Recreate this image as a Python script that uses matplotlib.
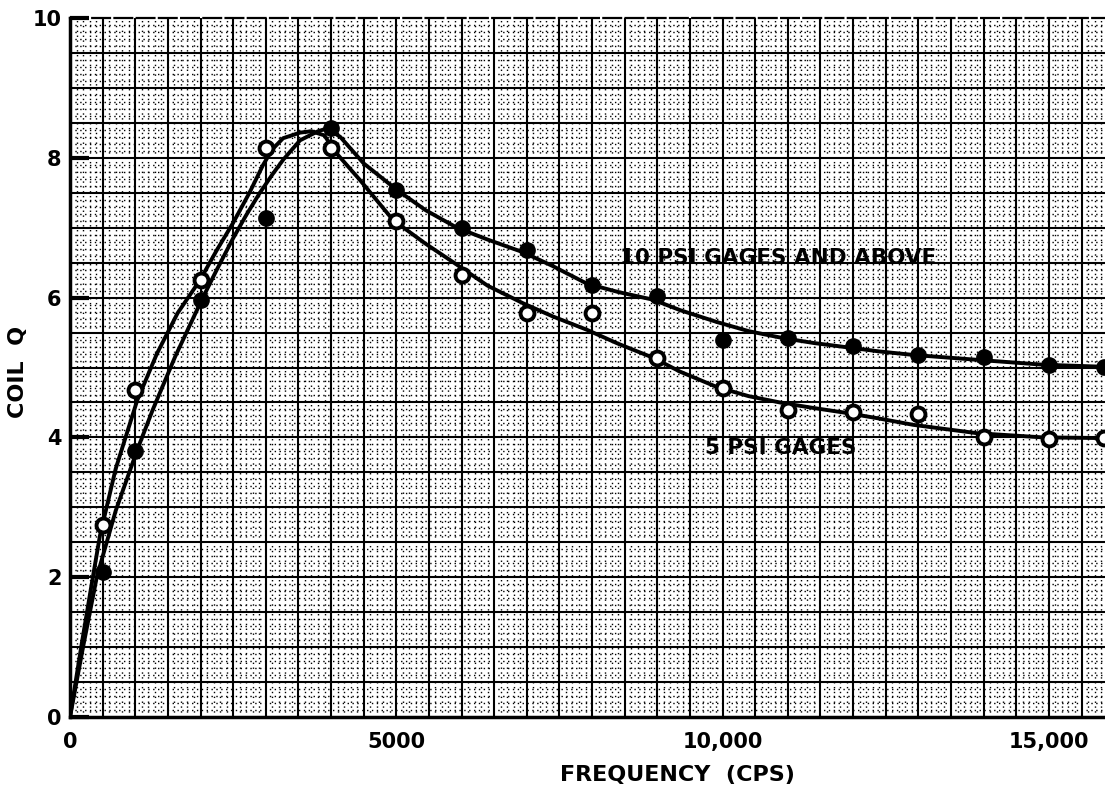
import matplotlib
matplotlib.use("Agg")
import matplotlib.pyplot as plt
from matplotlib.ticker import FixedLocator

plt.rcParams['font.family'] = ['DejaVu Sans']

# ---- data ----
freq_pts = [500, 1000, 2000, 3000, 4000, 5000, 6000, 7000, 8000, 9000,
            10000, 11000, 12000, 13000, 14000, 15000, 15850]
q_10psi_pts = [2.07, 3.80, 5.97, 7.14, 8.42, 7.54, 6.99, 6.68, 6.18, 6.02,
               5.40, 5.42, 5.31, 5.18, 5.15, 5.03, 5.01]
q_5psi_pts = [2.75, 4.68, 6.25, 8.14, 8.14, 7.09, 6.32, 5.78, 5.78, 5.14,
              4.71, 4.39, 4.36, 4.33, 4.00, 3.98, 3.99]

curve_10_f = [0, 200, 410, 700, 1030, 1270, 1609, 2020, 2250, 2500, 2700,
              2910, 3100, 3265, 3525, 3800, 3940, 4140, 4500, 5010, 5450,
              5930, 6400, 6940, 7400, 7920, 8400, 8935, 9350, 9915, 10400,
              10930, 11400, 11900, 12400, 12920, 13900, 14910, 15860]
curve_10_q = [0, 1.0, 2.0, 2.95, 3.82, 4.40, 5.15, 5.97, 6.40, 6.85, 7.18,
              7.50, 7.76, 7.97, 8.25, 8.38, 8.42, 8.30, 7.92, 7.54, 7.25,
              7.00, 6.83, 6.65, 6.45, 6.20, 6.08, 5.97, 5.82, 5.65, 5.52,
              5.42, 5.35, 5.29, 5.23, 5.18, 5.11, 5.04, 5.01]

curve_5_f = [0, 180, 350, 460, 700, 1030, 1333, 1650, 1992, 2250, 2500, 2750,
             2960, 3100, 3265, 3525, 3700, 3900, 4050, 4445, 4950, 5450,
             5930, 6400, 6940, 7400, 7920, 8400, 8935, 9350, 9915, 10400,
             10930, 11400, 11900, 12400, 12920, 13900, 14910, 15860]
curve_5_q = [0, 1.05, 2.0, 2.60, 3.55, 4.53, 5.20, 5.78, 6.25, 6.68, 7.07,
             7.50, 7.90, 8.12, 8.28, 8.36, 8.38, 8.32, 8.10, 7.68, 7.11,
             6.77, 6.47, 6.17, 5.92, 5.73, 5.54, 5.34, 5.14, 4.94, 4.72,
             4.59, 4.49, 4.42, 4.35, 4.27, 4.18, 4.06, 4.00, 3.99]

x_ticks = [0, 5000, 10000, 15000]
x_tick_labels = ["0", "5000", "10,000", "15,000"]
y_ticks = [0, 2, 4, 6, 8, 10]
y_tick_labels = ["0", "2", "4", "6", "8", "10"]

label_10 = "10 PSI GAGES AND ABOVE"
label_5 = "5 PSI GAGES"

# ---- figure ----
fig = plt.figure(figsize=(11.05, 7.93), dpi=100)
ax = fig.add_axes([70/1105, 76/793, 1035/1105, 699/793])

ax.set_xlim(0, 15860)
ax.set_ylim(0, 10)

# graph-paper grid
for xv in range(500, 16000, 500):
    ax.axvline(xv, color='black', lw=1.5, zorder=1)
for yv in [i * 0.5 for i in range(1, 20)]:
    ax.axhline(yv, color='black', lw=1.5, zorder=1)
for xv in range(100, 16000, 100):
    if xv % 500:
        ax.axvline(xv, color='black', lw=1.0, ls=(0, (1, 2.5)), zorder=0)
for i in range(1, 100):
    if i % 5:
        ax.axhline(i * 0.1, color='black', lw=1.0, ls=(0, (1, 2.5)), zorder=0)

# curves
ax.plot(curve_10_f, curve_10_q, color='black', lw=2.8, zorder=3,
        solid_joinstyle='round', solid_capstyle='round')
ax.plot(curve_5_f, curve_5_q, color='black', lw=2.8, zorder=3,
        solid_joinstyle='round', solid_capstyle='round')

# data points
ax.plot(freq_pts, q_10psi_pts, 'o', color='black', ms=11, zorder=4)
ax.plot(freq_pts, q_5psi_pts, 'o', mfc='white', mec='black', mew=2.8,
        ms=10, zorder=4)

# in-chart labels
ax.text(8430, 6.57, label_10, fontsize=15.5, fontweight='bold',
        ha='left', va='center', zorder=5)
ax.text(9730, 3.85, label_5, fontsize=15.5, fontweight='bold',
        ha='left', va='center', zorder=5)

# axes styling
ax.spines['right'].set_visible(False)
ax.spines['top'].set_linewidth(1.6)
ax.spines['top'].set_linestyle((0, (8, 2)))
ax.spines['left'].set_linewidth(2.5)
ax.spines['bottom'].set_linewidth(2.5)

ax.xaxis.set_major_locator(FixedLocator(x_ticks))
ax.yaxis.set_major_locator(FixedLocator(y_ticks))
ax.set_xticklabels(x_tick_labels)
ax.set_yticklabels(y_tick_labels)
ax.tick_params(axis='y', direction='in', length=14, width=3, pad=6,
               labelsize=15)
ax.tick_params(axis='x', direction='in', length=0, width=3, pad=11,
               labelsize=15)
for t in ax.get_xticklabels() + ax.get_yticklabels():
    t.set_fontweight('bold')

ax.set_xlabel("FREQUENCY  (CPS)", fontsize=16, fontweight='bold')
ax.xaxis.set_label_coords((677 - 70) / 1035, -(775 - 717) / 699)
ax.xaxis.label.set_va('center')
fig.text(18/1105, 1 - 372/793, "COIL  Q", rotation=90, fontsize=16,
         fontweight='bold', ha='center', va='center')

fig.savefig("out.png", dpi=100, facecolor='white')
